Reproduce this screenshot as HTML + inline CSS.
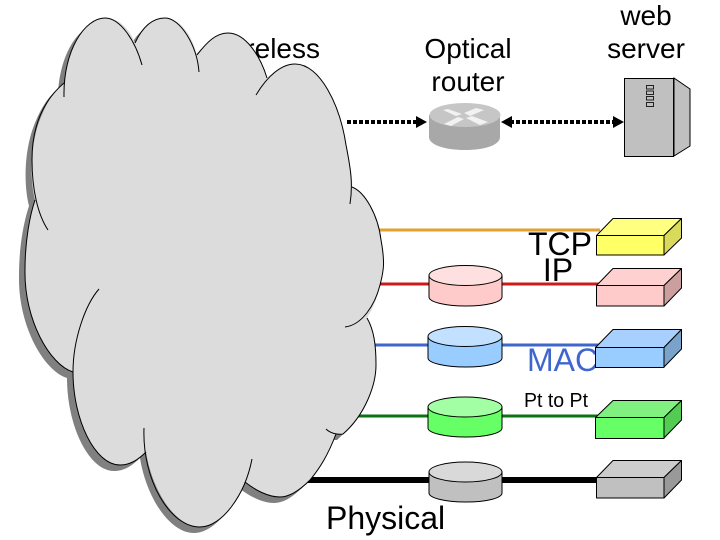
<!DOCTYPE html>
<html><head><meta charset="utf-8"><style>
html,body{margin:0;padding:0;background:#fff}
svg{display:block}
text{font-family:"Liberation Sans",sans-serif;fill:#000}
</style></head><body>
<svg width="720" height="540" viewBox="0 0 720 540" xmlns="http://www.w3.org/2000/svg">
<defs>
<path id="cloud" d="M64 97C63 50 85 18 105 18C120 18 130 30 135 43C142 28 152 18 165 18C180 18 192 35 197 55C207 42 216 33 228 33C245 33 260 55 267 78C275 70 285 64 295 64C320 64 340 105 346 145C351 170 353 180 352 187C365 192 378 215 381 240C385 262 384 270 380 285C377 300 372 310 367 318C374 330 376 345 376 365C376 385 365 415 343 434L336 434C328 455 320 468 310 480C300 490 290 497 280 497C268 497 255 490 245 482C240 500 220 527 200 527C175 527 152 490 146 452C138 460 130 465 120 465C95 465 73 420 73 372C50 365 24 320 25 270C25 240 30 215 35 200C30 180 30 150 38 125C44 108 52 92 64 83Z"/>
</defs>

<!-- text behind cloud -->
<text x="320" y="58" font-size="28" text-anchor="end">Wireless</text>

<!-- lines -->
<g fill="none">
<line x1="340" y1="230" x2="600" y2="230" stroke="#e2a02e" stroke-width="3"/>
<line x1="340" y1="284" x2="600" y2="284" stroke="#cc1a1a" stroke-width="3"/>
<line x1="340" y1="345" x2="600" y2="345" stroke="#3f66cc" stroke-width="3"/>
<line x1="340" y1="416" x2="600" y2="416" stroke="#0d7312" stroke-width="3"/>
<line x1="300" y1="480" x2="600" y2="480" stroke="#000" stroke-width="6"/>
<line x1="347" y1="122" x2="420" y2="122" stroke="#000" stroke-width="4" stroke-dasharray="4 2"/>
<line x1="510" y1="122" x2="618" y2="122" stroke="#000" stroke-width="4" stroke-dasharray="4 2"/>
</g>
<path d="M427 122L416 116V128Z M501 122L512 116V128Z M624 122L613 116V128Z" fill="#000"/>

<!-- MAC sits behind the blue box -->
<text x="527" y="371" font-size="32" style="fill:#3f66cc">MAC</text>

<!-- Optical router -->
<path d="M429 115V137C429 145 445 150 465 150C485 150 500 145 500 137V115Z" fill="#a8a8a8"/>
<ellipse cx="465" cy="115" rx="35.500" ry="12" fill="#c6c6c6"/>
<path d="M448 109L462 114L456 116L443 110Z M476 108L484 110L470 116L464 113Z M444 124L458 117L464 119L451 126Z M466 118L472 116L488 122L480 125Z" fill="#f2f2f2"/>

<!-- Server -->
<path d="M674 78L690 89V146L674 156Z" fill="#c0c0c0" stroke="#000" stroke-width="1"/>
<rect x="624.500" y="78.500" width="49" height="78" fill="#c0c0c0" stroke="#000"/>
<g fill="#c0c0c0" stroke="#222" stroke-width="1">
<rect x="646.500" y="85.500" width="7" height="3.500"/>
<rect x="646.500" y="91" width="7" height="3.500"/>
<rect x="646.500" y="96.500" width="7" height="3.500"/>
<rect x="646.500" y="102.500" width="7" height="4"/>
</g>

<!-- Cylinders -->
<g stroke="#000" stroke-width="1">
<path d="M429 276V297C429 302 445 306 466 306C487 306 502 302 502 297V276Z" fill="#ffcaca"/>
<ellipse cx="465.500" cy="275.500" rx="36.500" ry="10" fill="#ffe0e0"/>
<path d="M428 337V358C428 363 445 367 466 367C487 367 502 363 502 358V337Z" fill="#99ccff"/>
<ellipse cx="465" cy="336.500" rx="37" ry="10" fill="#c2e0ff"/>
<path d="M428 407V428C428 433 445 437 466 437C487 437 502 433 502 428V407Z" fill="#66ff66"/>
<ellipse cx="465" cy="407" rx="37" ry="10" fill="#a3ffa3"/>
<path d="M429 472V493C429 498 445 502 466 502C487 502 502 498 502 493V472Z" fill="#c0c0c0"/>
<ellipse cx="465.500" cy="472" rx="36.500" ry="10" fill="#d9d9d9"/>
</g>

<!-- Boxes -->
<g stroke="#000" stroke-width="1" stroke-linejoin="round">
<path d="M596.500 235.500L613 218.500H681.500L664 235.500Z" fill="#ffff80"/>
<path d="M664 235.500L681.500 218.500V238L664 255Z" fill="#d9d95c"/>
<rect x="596.500" y="235.500" width="67.500" height="19.500" fill="#ffff66"/>
<path d="M596.500 285.500L613 268.500H681.500L664 285.500Z" fill="#ffd0d0"/>
<path d="M664 285.500L681.500 268.500V288L664 306Z" fill="#cc9f9f"/>
<rect x="596.500" y="285.500" width="67.500" height="20.500" fill="#ffcaca"/>
<path d="M595.500 347.500L613 329.500H681.500L664 347.500Z" fill="#a8d0ff"/>
<path d="M664 347.500L681.500 329.500V349L664 367Z" fill="#7aa3cc"/>
<rect x="595.500" y="347.500" width="68.500" height="20" fill="#99ccff"/>
<path d="M595.500 417.500L613 400.500H681.500L664 417.500Z" fill="#80f080"/>
<path d="M664 417.500L681.500 400.500V420L664 438Z" fill="#52cc52"/>
<rect x="595.500" y="417.500" width="68.500" height="21" fill="#66ff66"/>
<path d="M596.500 477.500L613 460.500H681.500L664 477.500Z" fill="#cccccc"/>
<path d="M664 477.500L681.500 460.500V480L664 498Z" fill="#999999"/>
<rect x="596.500" y="477.500" width="67.500" height="20.500" fill="#c0c0c0"/>
</g>

<!-- Labels -->
<text x="468" y="58" font-size="28" text-anchor="middle">Optical</text>
<text x="468" y="91" font-size="28" text-anchor="middle">router</text>
<text x="646" y="25" font-size="28" text-anchor="middle">web</text>
<text x="646" y="58" font-size="28" text-anchor="middle">server</text>
<text x="560" y="255" font-size="32" text-anchor="middle">TCP</text>
<text x="558" y="281" font-size="32" text-anchor="middle">IP</text>
<text x="524" y="407" font-size="20" textLength="64" lengthAdjust="spacingAndGlyphs">Pt to Pt</text>
<text x="326" y="529" font-size="32">Physical</text>

<!-- Cloud -->
<use href="#cloud" x="-6" y="6" fill="#808080"/>
<use href="#cloud" fill="#dcdcdc"/>
<g fill="none" stroke="#000" stroke-width="1">
<path d="M64 97C63 50 85 18 105 18C120 18 135 40 142 65"/>
<path d="M135 43C142 28 152 18 165 18C180 18 197 45 199 72"/>
<path d="M197 55C207 42 216 33 228 33C245 33 260 55 267 78"/>
<path d="M256 95C268 75 282 64 295 64C320 64 340 105 346 145C351 170 353 185 350 204"/>
<path d="M352 187C365 192 378 215 381 240C385 262 384 270 380 285C375 305 362 325 345 327"/>
<path d="M367 318C374 330 376 345 376 365C376 385 365 415 343 434C337 435 330 433 326 429"/>
<path d="M336 434C328 455 320 468 310 480C300 490 290 497 280 497C268 497 255 490 245 482"/>
<path d="M252 459C245 495 222 527 200 527C170 527 142 480 144 428"/>
<path d="M146 452C138 460 130 465 120 465C95 465 73 420 73 372C73 340 85 305 99 289"/>
<path d="M73 372C50 365 24 320 25 270C25 240 30 215 35 200"/>
<path d="M48 230C38 215 32 190 32 160C32 125 44 100 64 83"/>
</g>
</svg>
</body></html>
